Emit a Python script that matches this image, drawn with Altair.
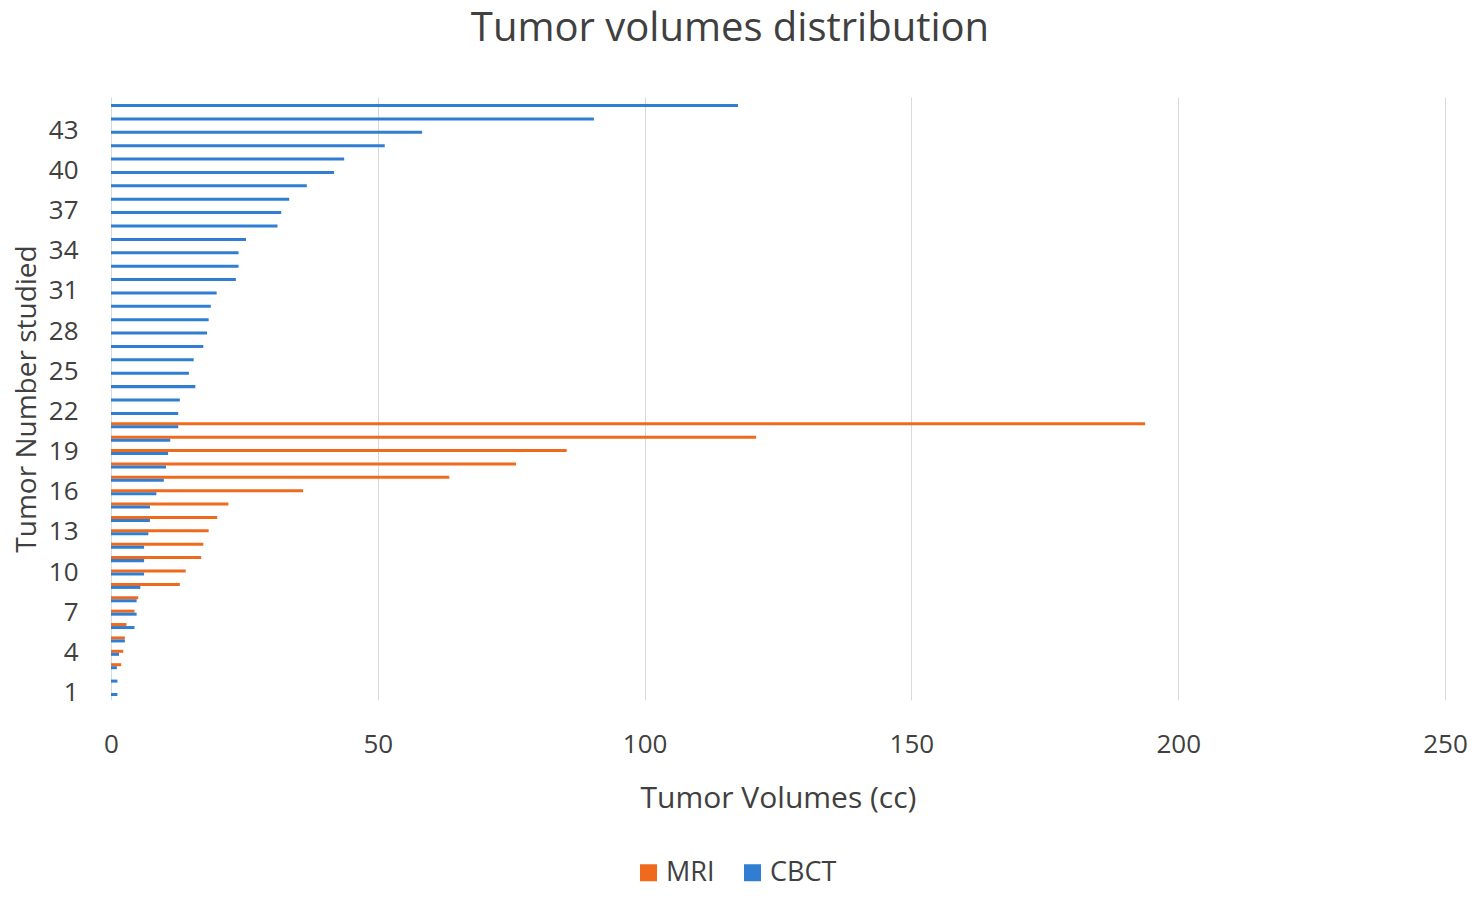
import altair as alt
import pandas as pd

tumors = list(range(1, 46))
cbct = [1.2, 1.2, 1.1, 1.5, 2.6, 4.4, 4.8, 4.8, 5.5, 6.2,
        6.2, 6.2, 7.0, 7.3, 7.3, 8.5, 9.9, 10.3, 10.7, 11.1,
        12.6, 12.6, 12.9, 15.8, 14.6, 15.5, 17.3, 18.0, 18.3, 18.7,
        19.8, 23.4, 23.9, 23.9, 25.3, 31.2, 31.9, 33.4, 36.7, 41.8,
        43.7, 51.3, 58.3, 90.5, 117.5]
mri = [None, None, 1.9, 2.3, 2.6, 2.9, 4.4, 5.1, 12.9, 14.0,
       16.9, 17.3, 18.3, 19.9, 22.0, 36.0, 63.4, 75.9, 85.4, 120.9,
       193.8]
series_order = ["MRI", "CBCT"]
colors = ["#F06A1E", "#2F7ED2"]
y_ticks = list(range(1, 46, 3))

rows = []
for t, v in zip(tumors, mri + [None] * (len(tumors) - len(mri))):
    if v is not None:
        rows.append({"tumor": t, "series": "MRI", "volume": v})
for t, v in zip(tumors, cbct):
    rows.append({"tumor": t, "series": "CBCT", "volume": v})
df = pd.DataFrame(rows)

FONT = "Open Sans"
TXT = "#404040"

chart = alt.Chart(df).mark_bar().encode(
    x=alt.X("volume:Q", title="Tumor Volumes (cc)",
            scale=alt.Scale(domain=[0, 250], nice=False),
            axis=alt.Axis(values=[0, 50, 100, 150, 200, 250], grid=True,
                          gridColor="#d9d9d9", domain=False, ticks=False,
                          labelFlush=False, labelOverlap=False,
                          labelFontSize=26, labelColor=TXT, labelPadding=31,
                          titleFontSize=30, titleColor=TXT, titleFontWeight="normal",
                          titlePadding=26, labelFont=FONT, titleFont=FONT)),
    y=alt.Y("tumor:O", title="Tumor Number studied", sort="descending",
            scale=alt.Scale(paddingInner=0.55, paddingOuter=0.3),
            axis=alt.Axis(values=y_ticks, domain=False, ticks=False, grid=False,
                          labelFontSize=26, labelColor=TXT, labelPadding=33,
                          titleFontSize=28, titleColor=TXT, titleFontWeight="normal",
                          titlePadding=7, labelFont=FONT, titleFont=FONT)),
    yOffset=alt.YOffset("series:N", sort=series_order),
    color=alt.Color("series:N", sort=series_order,
                    scale=alt.Scale(domain=series_order, range=colors),
                    legend=alt.Legend(title=None, orient="none", direction="horizontal",
                                      legendX=524, legendY=762, symbolType="square",
                                      symbolSize=289, labelFontSize=27, labelColor=TXT,
                                      labelFont=FONT, columnPadding=24, symbolStrokeWidth=0)),
).properties(
    width=1334, height=603,
    title=alt.TitleParams("Tumor volumes distribution", fontSize=40, color=TXT,
                          font=FONT, fontWeight="normal", anchor="middle", dx=-48, offset=48),
    autosize=alt.AutoSizeParams(type="none"),
    padding={"left": 103, "top": 89, "right": 23, "bottom": 197},
).configure_view(stroke=None)

chart.save("out.html", embed_options={"renderer": "svg", "actions": False})
